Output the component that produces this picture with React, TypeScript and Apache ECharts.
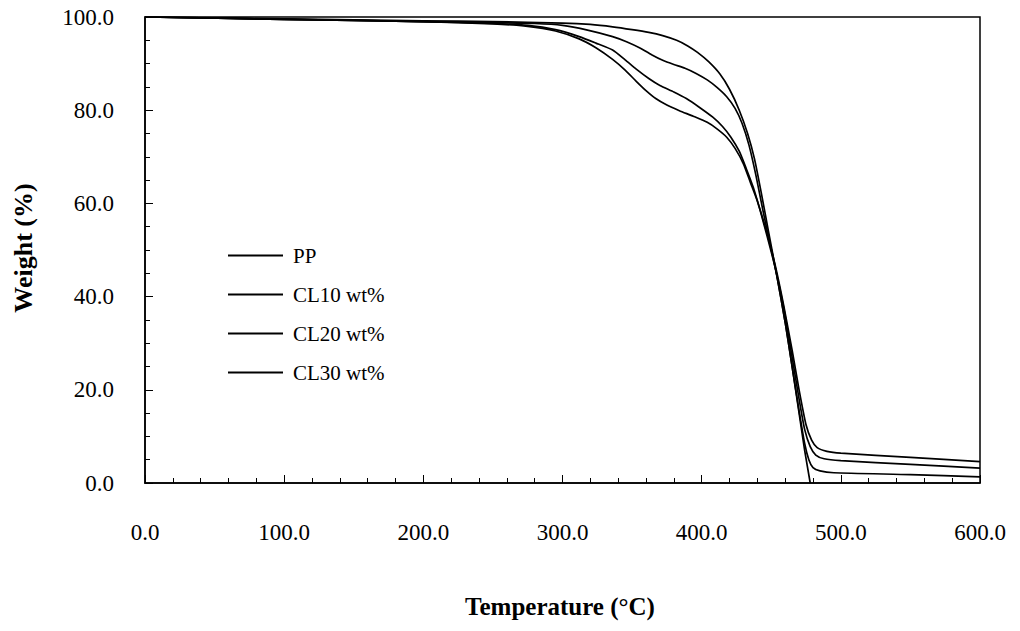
import React, { useEffect, useRef } from "react";
import * as echarts from "echarts";

const seriesNames = ["PP", "CL10 wt%", "CL20 wt%", "CL30 wt%"];

const ppData: [number, number][] = [
  [0, 100], [50, 99.8], [100, 99.6], [150, 99.4], [200, 99.2], [250, 99.0], [300, 98.7],
  [320, 98.4], [336, 97.9], [350, 97.3], [362, 96.7], [372, 96.0], [382, 95.0], [390, 93.8],
  [397, 92.4], [405, 90.4], [413, 87.8], [420, 84.5], [427, 80.0], [433, 75.0], [438, 69.5],
  [443, 62], [448, 54], [454, 44.5], [460, 34.5], [465, 25], [470, 15], [474, 7], [478, 0],
];

const cl10Data: [number, number][] = [
  [0, 100], [100, 99.5], [200, 99.0], [250, 98.8], [280, 98.6], [300, 98.2], [318, 97.2],
  [336, 95.8], [346, 94.7], [356, 93.3], [364, 91.9], [372, 90.7], [380, 89.8], [388, 89.0],
  [396, 87.9], [404, 86.5], [411, 84.9], [418, 82.9], [424, 80.4], [429, 77.2], [434, 72.5],
  [439, 66], [444, 58.5], [449, 51.5], [454, 44.5], [460, 34.5], [465, 25], [470, 15.5],
  [474, 8.5], [477, 5], [480, 3.3], [485, 2.6], [495, 2.2], [550, 1.8], [600, 1.3],
];

const cl20Data: [number, number][] = [
  [0, 100], [100, 99.5], [200, 99.0], [250, 98.6], [275, 98.2], [295, 97.3], [312, 95.8],
  [324, 94.4], [336, 92.9], [345, 90.8], [353, 88.8], [362, 86.8], [370, 85.3], [380, 83.9],
  [389, 82.5], [398, 80.7], [408, 78.5], [415, 76.5], [421, 74.2], [427, 71.2], [432, 67.5],
  [437, 63.5], [442, 58.5], [447, 53], [453, 46], [459, 37.5], [465, 27], [470, 18],
  [474, 11.5], [478, 7.8], [482, 6.0], [488, 5.2], [500, 4.8], [550, 4.0], [600, 3.2],
];

const cl30Data: [number, number][] = [
  [0, 100], [100, 99.5], [200, 99.0], [250, 98.5], [275, 98.0], [295, 97.0], [312, 95.3],
  [324, 93.4], [336, 90.9], [345, 88.6], [353, 86.2], [360, 84.2], [367, 82.5], [375, 81.1],
  [384, 79.9], [394, 78.7], [404, 77.4], [411, 76.0], [418, 74.2], [424, 71.8], [430, 68.5],
  [435, 64.5], [440, 60.5], [447, 53.6], [453, 46.5], [459, 38], [465, 28.5], [470, 20],
  [475, 12.5], [479, 9.2], [483, 7.6], [490, 6.8], [500, 6.4], [550, 5.5], [600, 4.6],
];

const allData = [ppData, cl10Data, cl20Data, cl30Data];

const FONT = "'Liberation Serif', 'Times New Roman', serif";

export default function App() {
  const ref = useRef<HTMLDivElement>(null);
  useEffect(() => {
    if (!ref.current) return;
    const chart = echarts.init(ref.current, undefined, { renderer: "svg" });
    chart.setOption({
      animation: false,
      backgroundColor: "#fff",
      grid: {
        left: 145,
        right: 40,
        top: 17,
        bottom: 148,
        show: true,
        borderColor: "#000",
        borderWidth: 1.5,
        backgroundColor: "transparent",
      },
      legend: {
        orient: "vertical",
        left: 228,
        top: 245,
        padding: 0,
        icon: "rect",
        itemWidth: 55,
        itemHeight: 2,
        itemGap: 18,
        data: seriesNames,
        textStyle: { fontFamily: FONT, fontSize: 21, color: "#000", lineHeight: 20, padding: [0, 0, 0, 5] },
      },
      xAxis: {
        type: "value",
        min: 0,
        max: 600,
        interval: 100,
        axisLine: { show: true, lineStyle: { color: "#000", width: 1.5 } },
        axisTick: { show: true, inside: true, length: 8, lineStyle: { color: "#000" } },
        minorTick: { show: true, splitNumber: 5, length: 5, lineStyle: { color: "#000" } },
        splitLine: { show: false },
        axisLabel: {
          margin: 38,
          fontFamily: FONT,
          fontSize: 23,
          color: "#000",
          formatter: (v: number) => v.toFixed(1),
        },
      },
      yAxis: {
        type: "value",
        min: 0,
        max: 100,
        interval: 20,
        axisLine: { show: true, lineStyle: { color: "#000", width: 1.5 } },
        axisTick: { show: true, inside: true, length: 8, lineStyle: { color: "#000" } },
        minorTick: { show: true, splitNumber: 4, length: 5, lineStyle: { color: "#000" } },
        splitLine: { show: false },
        axisLabel: {
          margin: 31,
          fontFamily: FONT,
          fontSize: 23,
          color: "#000",
          formatter: (v: number) => v.toFixed(1),
        },
      },
      graphic: [
        {
          type: "text",
          x: 560,
          y: 606,
          style: {
            text: "Temperature (°C)",
            font: `bold 25px ${FONT}`,
            fill: "#000",
            textAlign: "center",
            textVerticalAlign: "middle",
          },
        },
        {
          type: "text",
          x: 23,
          y: 248,
          rotation: Math.PI / 2,
          style: {
            text: "Weight (%)",
            font: `bold 26px ${FONT}`,
            fill: "#000",
            textAlign: "center",
            textVerticalAlign: "middle",
          },
        },
      ],
      series: seriesNames.map((name, i) => ({
        name,
        type: "line",
        data: allData[i],
        symbol: "none",
        smooth: 0.2,
        lineStyle: { color: "#000", width: 1.7 },
        itemStyle: { color: "#000" },
      })),
    });
    return () => chart.dispose();
  }, []);
  return <div ref={ref} style={{ width: 1020, height: 631, position: "absolute", left: 0, top: 0 }} />;
}
